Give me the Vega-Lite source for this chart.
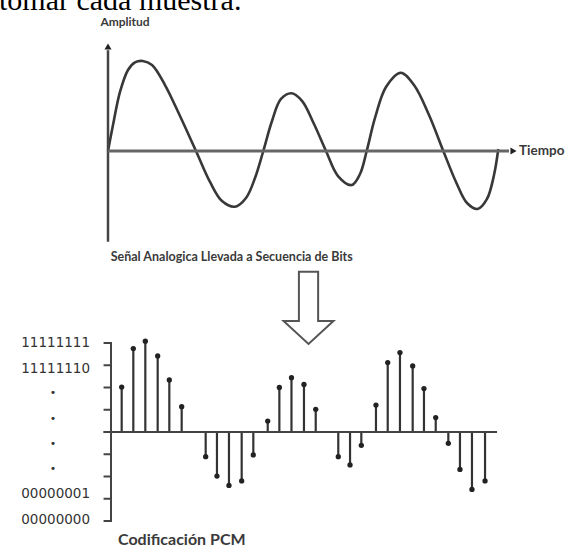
{
  "$schema": "https://vega.github.io/schema/vega-lite/v6.json",
  "width": 569,
  "height": 547,
  "padding": 0,
  "autosize": {"type": "none"},
  "background": "white",
  "config": {"view": {"stroke": null}, "axis": {"disable": true}, "legend": {"disable": true}},
  "datasets": {
    "wave": [
      {"t": 0, "a": 0}, {"t": 0.5, "a": 0.289}, {"t": 1.2, "a": 0.656}, {"t": 2.0, "a": 0.9}, {"t": 2.7, "a": 0.985},
      {"t": 3.47, "a": 1.0}, {"t": 4.4, "a": 0.956}, {"t": 5.7, "a": 0.733}, {"t": 7.2, "a": 0.389}, {"t": 8.8, "a": 0},
      {"t": 10.2, "a": -0.344}, {"t": 11.4, "a": -0.556}, {"t": 12.7, "a": -0.619}, {"t": 13.8, "a": -0.522}, {"t": 14.7, "a": -0.3},
      {"t": 15.53, "a": 0}, {"t": 16.4, "a": 0.333}, {"t": 17.3, "a": 0.578}, {"t": 18.37, "a": 0.641}, {"t": 19.4, "a": 0.556},
      {"t": 20.6, "a": 0.3}, {"t": 21.8, "a": 0}, {"t": 23.0, "a": -0.278}, {"t": 24.37, "a": -0.378}, {"t": 25.2, "a": -0.256},
      {"t": 25.87, "a": 0}, {"t": 26.7, "a": 0.367}, {"t": 27.8, "a": 0.711}, {"t": 29.27, "a": 0.87}, {"t": 30.6, "a": 0.733},
      {"t": 32.1, "a": 0.4}, {"t": 33.53, "a": 0}, {"t": 34.8, "a": -0.344}, {"t": 35.9, "a": -0.578}, {"t": 36.97, "a": -0.644},
      {"t": 37.9, "a": -0.533}, {"t": 38.6, "a": -0.267}, {"t": 39.03, "a": 0.022}
    ],
    "stems": [
      {"n": 0.89, "v": 2.02}, {"n": 1.86, "v": 3.75}, {"n": 2.86, "v": 4.08}, {"n": 3.89, "v": 3.42}, {"n": 4.86, "v": 2.34},
      {"n": 5.89, "v": 1.14}, {"n": 7.89, "v": -1.11}, {"n": 8.83, "v": -1.98}, {"n": 9.83, "v": -2.4}, {"n": 10.89, "v": -2.2},
      {"n": 11.86, "v": -1.03}, {"n": 13.06, "v": 0.49}, {"n": 14.03, "v": 2.0}, {"n": 15.04, "v": 2.44}, {"n": 16.08, "v": 2.14},
      {"n": 17.06, "v": 1.02}, {"n": 18.94, "v": -1.11}, {"n": 19.92, "v": -1.48}, {"n": 20.86, "v": -0.6}, {"n": 22.08, "v": 1.21},
      {"n": 23.06, "v": 3.12}, {"n": 24.08, "v": 3.57}, {"n": 25.14, "v": 2.97}, {"n": 26.08, "v": 1.95}, {"n": 27.06, "v": 0.65},
      {"n": 28.11, "v": -0.51}, {"n": 29.08, "v": -1.68}, {"n": 30.08, "v": -2.58}, {"n": 31.17, "v": -2.2}
    ],
    "levels": [
      {"level": -4}, {"level": -3}, {"level": -2}, {"level": -1}, {"level": 0}, {"level": 1}, {"level": 2}, {"level": 3}, {"level": 4}
    ],
    "codes": [
      {"label": "11111111", "pos": 3.99}, {"label": "11111110", "pos": 2.85}, {"label": "•", "pos": 1.77}, {"label": "•", "pos": 0.6},
      {"label": "•", "pos": -0.55}, {"label": "•", "pos": -1.68}, {"label": "00000001", "pos": -2.8}, {"label": "00000000", "pos": -3.96}
    ]
  },
  "resolve": {"scale": {"x": "independent", "y": "independent"}},
  "layer": [
    {
      "layer": [
        {
          "data": {"name": "wave"},
          "mark": {"type": "line", "interpolate": "catmull-rom", "color": "#383838", "strokeWidth": 2.6},
          "encoding": {
            "x": {"field": "t", "type": "quantitative", "scale": {"domain": [0, 41], "range": [108, 518]}},
            "y": {"field": "a", "type": "quantitative", "scale": {"domain": [-1, 1.2], "range": [241, 43]}}
          }
        },
        {
          "data": {"values": [{}]},
          "mark": {"type": "rule", "color": "#444444", "strokeWidth": 2.5},
          "encoding": {
            "x": {"datum": 0, "type": "quantitative", "scale": {"domain": [0, 41], "range": [108, 518]}},
            "y": {"datum": -1.008, "type": "quantitative", "scale": {"domain": [-1, 1.2], "range": [241, 43]}},
            "y2": {"datum": 1.12}
          }
        },
        {
          "data": {"values": [{}]},
          "mark": {"type": "rule", "color": "#666666", "strokeWidth": 3},
          "encoding": {
            "x": {"datum": 0, "type": "quantitative", "scale": {"domain": [0, 41], "range": [108, 518]}},
            "x2": {"datum": 40.1},
            "y": {"datum": 0, "type": "quantitative", "scale": {"domain": [-1, 1.2], "range": [241, 43]}}
          }
        },
        {
          "data": {"values": [{}]},
          "mark": {"type": "point", "shape": "triangle-up", "filled": true, "color": "#222222", "size": 50, "opacity": 1},
          "encoding": {
            "x": {"datum": 0, "type": "quantitative", "scale": {"domain": [0, 41], "range": [108, 518]}},
            "y": {"datum": 1.161, "type": "quantitative", "scale": {"domain": [-1, 1.2], "range": [241, 43]}}
          }
        },
        {
          "data": {"values": [{}]},
          "mark": {"type": "point", "shape": "triangle-right", "filled": true, "color": "#222222", "size": 50, "opacity": 1},
          "encoding": {
            "x": {"datum": 40.55, "type": "quantitative", "scale": {"domain": [0, 41], "range": [108, 518]}},
            "y": {"datum": 0, "type": "quantitative", "scale": {"domain": [-1, 1.2], "range": [241, 43]}}
          }
        },
        {
          "data": {"values": [{}]},
          "mark": {"type": "text", "text": "Amplitud", "font": "Lato", "fontWeight": "bold", "fontSize": 12, "color": "#3a3a3a", "align": "center", "baseline": "middle"},
          "encoding": {
            "x": {"datum": 1.7, "type": "quantitative", "scale": {"domain": [0, 41], "range": [108, 518]}},
            "y": {"datum": 1.433, "type": "quantitative", "scale": {"domain": [-1, 1.2], "range": [241, 43]}}
          }
        },
        {
          "data": {"values": [{}]},
          "mark": {"type": "text", "text": "Tiempo", "font": "Lato", "fontWeight": "bold", "fontSize": 13.5, "color": "#3a3a3a", "align": "left", "baseline": "middle"},
          "encoding": {
            "x": {"datum": 41.1, "type": "quantitative", "scale": {"domain": [0, 41], "range": [108, 518]}},
            "y": {"datum": 0, "type": "quantitative", "scale": {"domain": [-1, 1.2], "range": [241, 43]}}
          }
        },
        {
          "data": {"values": [{}]},
          "mark": {"type": "text", "text": "Señal Analogica Llevada a Secuencia de Bits", "font": "Lato", "fontWeight": "bold", "fontSize": 12.5, "color": "#3a3a3a", "align": "left", "baseline": "middle"},
          "encoding": {
            "x": {"datum": 0.27, "type": "quantitative", "scale": {"domain": [0, 41], "range": [108, 518]}},
            "y": {"datum": -1.174, "type": "quantitative", "scale": {"domain": [-1, 1.2], "range": [241, 43]}}
          }
        },
        {
          "data": {"values": [{}]},
          "mark": {"type": "text", "text": "tomar cada muestra.", "font": "Liberation Serif", "fontSize": 30, "color": "#000000", "align": "left", "baseline": "alphabetic"},
          "encoding": {
            "x": {"datum": -10.9, "type": "quantitative", "scale": {"domain": [0, 41], "range": [108, 518]}},
            "y": {"datum": 1.572, "type": "quantitative", "scale": {"domain": [-1, 1.2], "range": [241, 43]}}
          }
        }
      ]
    },
    {
      "layer": [
        {
          "data": {"name": "stems"},
          "mark": {"type": "rule", "color": "#333333", "strokeWidth": 2.2},
          "encoding": {
            "x": {"field": "n", "type": "quantitative", "scale": {"domain": [0, 32], "range": [111, 495]}},
            "y": {"field": "v", "type": "quantitative", "scale": {"domain": [-4, 4], "range": [521, 343]}},
            "y2": {"datum": 0}
          }
        },
        {
          "data": {"name": "stems"},
          "mark": {"type": "point", "shape": "circle", "filled": true, "color": "#222222", "size": 28, "opacity": 1},
          "encoding": {
            "x": {"field": "n", "type": "quantitative", "scale": {"domain": [0, 32], "range": [111, 495]}},
            "y": {"field": "v", "type": "quantitative", "scale": {"domain": [-4, 4], "range": [521, 343]}}
          }
        },
        {
          "data": {"name": "levels"},
          "mark": {"type": "rule", "color": "#444444", "strokeWidth": 2},
          "encoding": {
            "x": {"datum": -0.62, "type": "quantitative", "scale": {"domain": [0, 32], "range": [111, 495]}},
            "x2": {"datum": 0},
            "y": {"field": "level", "type": "quantitative", "scale": {"domain": [-4, 4], "range": [521, 343]}}
          }
        },
        {
          "data": {"values": [{}]},
          "mark": {"type": "rule", "color": "#444444", "strokeWidth": 2},
          "encoding": {
            "x": {"datum": 0, "type": "quantitative", "scale": {"domain": [0, 32], "range": [111, 495]}},
            "y": {"datum": -4.04, "type": "quantitative", "scale": {"domain": [-4, 4], "range": [521, 343]}},
            "y2": {"datum": 4.04}
          }
        },
        {
          "data": {"values": [{}]},
          "mark": {"type": "rule", "color": "#444444", "strokeWidth": 2},
          "encoding": {
            "x": {"datum": -0.62, "type": "quantitative", "scale": {"domain": [0, 32], "range": [111, 495]}},
            "x2": {"datum": 32.17},
            "y": {"datum": 0, "type": "quantitative", "scale": {"domain": [-4, 4], "range": [521, 343]}}
          }
        },
        {
          "data": {"name": "codes"},
          "transform": [{"filter": "datum.label !== '•'"}],
          "mark": {"type": "text", "font": "DejaVu Sans", "fontSize": 13.5, "color": "#333333", "align": "right", "baseline": "middle"},
          "encoding": {
            "x": {"datum": -1.75, "type": "quantitative", "scale": {"domain": [0, 32], "range": [111, 495]}},
            "y": {"field": "pos", "type": "quantitative", "scale": {"domain": [-4, 4], "range": [521, 343]}},
            "text": {"field": "label"}
          }
        },
        {
          "data": {"name": "codes"},
          "transform": [{"filter": "datum.label === '•'"}],
          "mark": {"type": "text", "font": "DejaVu Sans", "fontSize": 11, "color": "#333333", "align": "center", "baseline": "middle"},
          "encoding": {
            "x": {"datum": -4.83, "type": "quantitative", "scale": {"domain": [0, 32], "range": [111, 495]}},
            "y": {"field": "pos", "type": "quantitative", "scale": {"domain": [-4, 4], "range": [521, 343]}},
            "text": {"field": "label"}
          }
        },
        {
          "data": {"values": [{}]},
          "mark": {"type": "point", "shape": "M-0.266,-1L0.266,-1L0.266,0.364L0.69,0.364L0,1L-0.69,0.364L-0.266,0.364Z", "filled": false, "fill": "white", "stroke": "#555555", "strokeWidth": 2, "size": 5227, "opacity": 1},
          "encoding": {
            "x": {"datum": 16.46, "type": "quantitative", "scale": {"domain": [0, 32], "range": [111, 495]}},
            "y": {"datum": 5.58, "type": "quantitative", "scale": {"domain": [-4, 4], "range": [521, 343]}}
          }
        },
        {
          "data": {"values": [{}]},
          "mark": {"type": "text", "text": "Codificación PCM", "font": "Lato", "fontWeight": "bold", "fontSize": 16, "color": "#3a3a3a", "align": "left", "baseline": "middle"},
          "encoding": {
            "x": {"datum": 0.58, "type": "quantitative", "scale": {"domain": [0, 32], "range": [111, 495]}},
            "y": {"datum": -4.85, "type": "quantitative", "scale": {"domain": [-4, 4], "range": [521, 343]}}
          }
        }
      ]
    }
  ]
}
